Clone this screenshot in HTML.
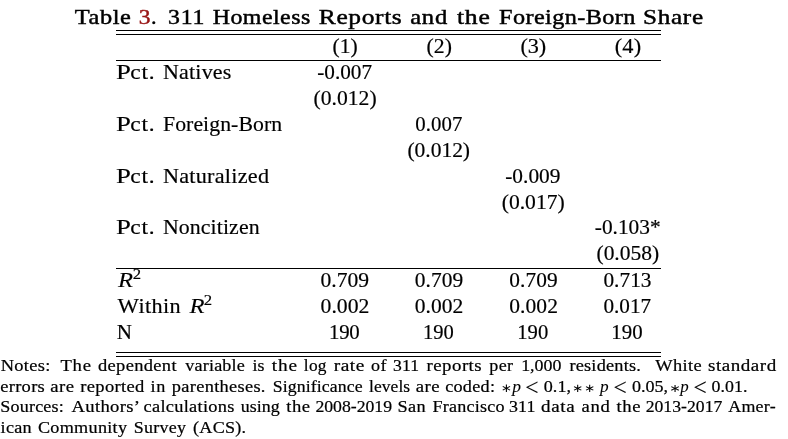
<!DOCTYPE html>
<html lang="en">
<head>
<meta charset="utf-8">
<title>Table 3. 311 Homeless Reports and the Foreign-Born Share</title>
<style>
html,body{margin:0;padding:0;background:#fff;}
body{width:788px;height:439px;overflow:hidden;position:relative;font-family:"Liberation Serif",serif;color:#000;}
.t{position:absolute;left:0;white-space:pre;line-height:1;margin:0;padding:0;transform-origin:0 0;-webkit-text-stroke:0.18px #000;}
.b{font-weight:normal;-webkit-text-stroke:0.45px #000;}
.i,.ni{font-style:italic;-webkit-text-stroke:0.1px #000;}
.s{-webkit-text-stroke:0.15px #000;}
.n{-webkit-text-stroke:0.22px #000;}
.na{font-family:"DejaVu Sans","Liberation Serif",sans-serif;-webkit-text-stroke:0;}
.red{color:#981414;-webkit-text-stroke-color:#981414;}
.hr{position:absolute;height:1px;background:#000;}
</style>
</head>
<body>
<div class="hr" style="left:116px;top:30px;width:545px"></div>
<div class="hr" style="left:116px;top:34px;width:545px"></div>
<div class="hr" style="left:116px;top:60px;width:545px"></div>
<div class="hr" style="left:116px;top:268px;width:545px"></div>
<div class="hr" style="left:116px;top:352px;width:545px"></div>
<div class="hr" style="left:116px;top:356px;width:545px"></div>
<span class="t b" style="top:7px;font-size:21.40px;letter-spacing:0.518px;transform:matrix(1.1392,0,0,1.0000,74.81,0);">Table </span>
<span class="t b red" style="top:7px;font-size:21.40px;transform:matrix(1.0984,0,0,1.0000,138.69,0);">3</span>
<span class="t b" style="top:7px;font-size:21.40px;transform:matrix(1.0429,0,0,1.0000,150.99,0);">. </span>
<span class="t b" style="top:7px;font-size:21.40px;letter-spacing:0.713px;transform:matrix(1.1119,0,0,1.0000,168.01,0);">311 </span>
<span class="t b" style="top:7px;font-size:21.40px;letter-spacing:0.402px;transform:matrix(1.1185,0,0,1.0000,212.73,0);">Homeless </span>
<span class="t b" style="top:7px;font-size:21.40px;letter-spacing:0.525px;transform:matrix(1.1900,0,0,1.0000,318.81,0);">Reports </span>
<span class="t b" style="top:7px;font-size:21.40px;letter-spacing:0.712px;transform:matrix(1.1482,0,0,1.0000,410.15,0);">and </span>
<span class="t b" style="top:7px;font-size:21.40px;letter-spacing:0.628px;transform:matrix(1.1980,0,0,1.0000,456.98,0);">the </span>
<span class="t b" style="top:7px;font-size:21.40px;letter-spacing:0.365px;transform:matrix(1.1314,0,0,1.0000,499.07,0);">Foreign-Born </span>
<span class="t b" style="top:7px;font-size:21.40px;letter-spacing:0.595px;transform:matrix(1.1769,0,0,1.0000,643.00,0);">Share </span>
<span class="t r" style="top:36px;font-size:21.40px;letter-spacing:0.003px;transform:matrix(1.0074,0,0,1.0000,332.48,0);">(1) </span>
<span class="t r" style="top:36px;font-size:21.40px;letter-spacing:0.037px;transform:matrix(1.0160,0,0,1.0000,426.56,0);">(2) </span>
<span class="t r" style="top:36px;font-size:21.40px;letter-spacing:-0.099px;transform:matrix(1.0378,0,0,1.0000,520.44,0);">(3) </span>
<span class="t r" style="top:36px;font-size:21.40px;letter-spacing:0.117px;transform:matrix(1.0444,0,0,1.0000,614.81,0);">(4) </span>
<span class="t r" style="top:62px;font-size:21.40px;transform:matrix(1.2500,0,0,1.0000,116.09,0);">P</span>
<span class="t r" style="top:62px;font-size:21.40px;letter-spacing:0.638px;transform:matrix(1.0934,0,0,1.0000,130.36,0);">ct. </span>
<span class="t r" style="top:62px;font-size:21.40px;letter-spacing:0.188px;transform:matrix(1.0292,0,0,1.0000,162.96,0);">Natives </span>
<span class="t r" style="top:62px;font-size:21.40px;letter-spacing:-0.016px;transform:matrix(0.9930,0,0,1.0000,317.23,0);">-0.007 </span>
<span class="t r" style="top:88px;font-size:21.40px;letter-spacing:-0.018px;transform:matrix(1.0127,0,0,1.0000,313.56,0);">(0.012) </span>
<span class="t r" style="top:114px;font-size:21.40px;transform:matrix(1.2500,0,0,1.0000,116.09,0);">P</span>
<span class="t r" style="top:114px;font-size:21.40px;letter-spacing:0.638px;transform:matrix(1.0934,0,0,1.0000,130.36,0);">ct. </span>
<span class="t r" style="top:114px;font-size:21.40px;letter-spacing:0.074px;transform:matrix(1.0163,0,0,1.0000,162.96,0);">Foreign-Born </span>
<span class="t r" style="top:114px;font-size:21.40px;letter-spacing:0.068px;transform:matrix(0.9737,0,0,1.0000,415.23,0);">0.007 </span>
<span class="t r" style="top:140px;font-size:21.40px;letter-spacing:-0.045px;transform:matrix(1.0080,0,0,1.0000,407.45,0);">(0.012) </span>
<span class="t r" style="top:166px;font-size:21.40px;transform:matrix(1.2500,0,0,1.0000,116.09,0);">P</span>
<span class="t r" style="top:166px;font-size:21.40px;letter-spacing:0.638px;transform:matrix(1.0934,0,0,1.0000,130.36,0);">ct. </span>
<span class="t r" style="top:166px;font-size:21.40px;letter-spacing:0.241px;transform:matrix(1.0385,0,0,1.0000,162.90,0);">Naturalized </span>
<span class="t r" style="top:166px;font-size:21.40px;letter-spacing:0.023px;transform:matrix(0.9990,0,0,1.0000,505.20,0);">-0.009 </span>
<span class="t r" style="top:192px;font-size:21.40px;letter-spacing:-0.024px;transform:matrix(1.0111,0,0,1.0000,501.76,0);">(0.017) </span>
<span class="t r" style="top:217px;font-size:21.40px;transform:matrix(1.2500,0,0,1.0000,116.09,0);">P</span>
<span class="t r" style="top:217px;font-size:21.40px;letter-spacing:0.638px;transform:matrix(1.0934,0,0,1.0000,130.36,0);">ct. </span>
<span class="t r" style="top:217px;font-size:21.40px;letter-spacing:0.100px;transform:matrix(1.0204,0,0,1.0000,162.93,0);">Noncitizen </span>
<span class="t r" style="top:217px;font-size:21.40px;letter-spacing:-0.001px;transform:matrix(0.9986,0,0,1.0000,594.78,0);">-0.103* </span>
<span class="t r" style="top:243px;font-size:21.40px;letter-spacing:-0.021px;transform:matrix(1.0061,0,0,1.0000,596.48,0);">(0.058) </span>
<span class="t i" style="top:270px;font-size:21.40px;transform:matrix(1.1500,0,0,1.0000,118.03,0);">R</span>
<span class="t s" style="top:267px;font-size:14.60px;transform:matrix(1.1485,0,0,1.0000,132.73,0);">2 </span>
<span class="t r" style="top:270px;font-size:21.40px;letter-spacing:-0.005px;transform:matrix(1.0105,0,0,1.0000,320.56,0);">0.709 </span>
<span class="t r" style="top:270px;font-size:21.40px;letter-spacing:0.049px;transform:matrix(1.0023,0,0,1.0000,414.82,0);">0.709 </span>
<span class="t r" style="top:270px;font-size:21.40px;letter-spacing:0.083px;transform:matrix(0.9977,0,0,1.0000,509.29,0);">0.709 </span>
<span class="t r" style="top:270px;font-size:21.40px;letter-spacing:0.011px;transform:matrix(0.9975,0,0,1.0000,603.44,0);">0.713 </span>
<span class="t r" style="top:296px;font-size:21.40px;transform:matrix(1.0598,0,0,1.0000,117.54,0);">W</span>
<span class="t r" style="top:296px;font-size:21.40px;letter-spacing:0.339px;transform:matrix(1.0386,0,0,1.0000,138.40,0);">ithin </span>
<span class="t i" style="top:296px;font-size:21.40px;transform:matrix(1.1500,0,0,1.0000,189.50,0);">R</span>
<span class="t s" style="top:293px;font-size:14.60px;transform:matrix(1.1485,0,0,1.0000,203.73,0);">2 </span>
<span class="t r" style="top:296px;font-size:21.40px;letter-spacing:-0.016px;transform:matrix(1.0148,0,0,1.0000,320.56,0);">0.002 </span>
<span class="t r" style="top:296px;font-size:21.40px;letter-spacing:-0.017px;transform:matrix(1.0064,0,0,1.0000,414.81,0);">0.002 </span>
<span class="t r" style="top:296px;font-size:21.40px;letter-spacing:0.065px;transform:matrix(1.0064,0,0,1.0000,509.22,0);">0.002 </span>
<span class="t r" style="top:296px;font-size:21.40px;letter-spacing:-0.014px;transform:matrix(0.9926,0,0,1.0000,603.47,0);">0.017 </span>
<span class="t r" style="top:322px;font-size:21.40px;transform:matrix(0.9858,0,0,1.0000,116.63,0);">N </span>
<span class="t r" style="top:322px;font-size:21.40px;letter-spacing:-0.202px;transform:matrix(0.9748,0,0,1.0000,328.91,0);">190 </span>
<span class="t r" style="top:322px;font-size:21.40px;letter-spacing:0.006px;transform:matrix(0.9622,0,0,1.0000,423.00,0);">190 </span>
<span class="t r" style="top:322px;font-size:21.40px;letter-spacing:0.157px;transform:matrix(0.9647,0,0,1.0000,517.15,0);">190 </span>
<span class="t r" style="top:322px;font-size:21.40px;letter-spacing:0.092px;transform:matrix(0.9747,0,0,1.0000,611.29,0);">190 </span>
<span class="t n" style="top:357px;font-size:17.40px;letter-spacing:0.298px;transform:matrix(1.0584,0,0,1.0000,0.65,0);">Notes: </span>
<span class="t n" style="top:357px;font-size:17.40px;letter-spacing:0.640px;transform:matrix(1.0746,0,0,1.0000,60.51,0);">The </span>
<span class="t n" style="top:357px;font-size:17.40px;letter-spacing:0.319px;transform:matrix(1.0615,0,0,1.0000,97.98,0);">dependent </span>
<span class="t n" style="top:357px;font-size:17.40px;letter-spacing:0.180px;transform:matrix(1.0406,0,0,1.0000,185.25,0);">variable </span>
<span class="t n" style="top:357px;font-size:17.40px;letter-spacing:-0.124px;transform:matrix(1.0269,0,0,1.0000,252.61,0);">is </span>
<span class="t n" style="top:357px;font-size:17.40px;letter-spacing:0.762px;transform:matrix(1.1072,0,0,1.0000,271.83,0);">the </span>
<span class="t n" style="top:357px;font-size:17.40px;letter-spacing:0.268px;transform:matrix(0.9959,0,0,1.0000,303.83,0);">log </span>
<span class="t n" style="top:357px;font-size:17.40px;letter-spacing:0.456px;transform:matrix(1.1144,0,0,1.0000,333.68,0);">rate </span>
<span class="t n" style="top:357px;font-size:17.40px;letter-spacing:0.505px;transform:matrix(1.0338,0,0,1.0000,370.96,0);">of </span>
<span class="t n" style="top:357px;font-size:17.40px;letter-spacing:0.106px;transform:matrix(1.0126,0,0,1.0000,393.11,0);">311 </span>
<span class="t n" style="top:357px;font-size:17.40px;letter-spacing:0.419px;transform:matrix(1.0840,0,0,1.0000,426.57,0);">reports </span>
<span class="t n" style="top:357px;font-size:17.40px;letter-spacing:0.411px;transform:matrix(1.0367,0,0,1.0000,489.25,0);">per </span>
<span class="t n" style="top:357px;font-size:17.40px;letter-spacing:-0.008px;transform:matrix(1.0280,0,0,1.0000,521.18,0);">1,000 </span>
<span class="t n" style="top:357px;font-size:17.40px;letter-spacing:0.192px;transform:matrix(1.0519,0,0,1.0000,569.42,0);">residents. </span>
<span class="t n" style="top:357px;font-size:17.40px;letter-spacing:0.337px;transform:matrix(1.0560,0,0,1.0000,655.25,0);">White </span>
<span class="t n" style="top:357px;font-size:17.40px;letter-spacing:0.501px;transform:matrix(1.0926,0,0,1.0000,707.94,0);">standard </span>
<span class="t n" style="top:378px;font-size:17.40px;letter-spacing:0.306px;transform:matrix(1.0612,0,0,1.0000,0.14,0);">errors </span>
<span class="t n" style="top:378px;font-size:17.40px;letter-spacing:0.432px;transform:matrix(1.0760,0,0,1.0000,50.32,0);">are </span>
<span class="t n" style="top:378px;font-size:17.40px;letter-spacing:0.333px;transform:matrix(1.0644,0,0,1.0000,80.18,0);">reported </span>
<span class="t n" style="top:378px;font-size:17.40px;letter-spacing:0.571px;transform:matrix(1.0452,0,0,1.0000,150.58,0);">in </span>
<span class="t n" style="top:378px;font-size:17.40px;letter-spacing:0.294px;transform:matrix(1.0555,0,0,1.0000,171.83,0);">parentheses. </span>
<span class="t n" style="top:378px;font-size:17.40px;letter-spacing:0.108px;transform:matrix(1.0203,0,0,1.0000,272.68,0);">Significance </span>
<span class="t n" style="top:378px;font-size:17.40px;letter-spacing:0.078px;transform:matrix(1.0021,0,0,1.0000,369.08,0);">levels </span>
<span class="t n" style="top:378px;font-size:17.40px;letter-spacing:0.470px;transform:matrix(1.0804,0,0,1.0000,415.75,0);">are </span>
<span class="t n" style="top:378px;font-size:17.40px;letter-spacing:0.256px;transform:matrix(1.0459,0,0,1.0000,445.13,0);">coded: </span>
<span class="t na" style="top:382px;font-size:13.00px;transform:matrix(1.0376,0,0,0.9249,500.46,0);">∗</span>
<span class="t ni" style="top:378px;font-size:17.40px;transform:matrix(1.0004,0,0,1.0000,512.33,0);">p </span>
<span class="t nm" style="top:377px;font-size:17.40px;transform:matrix(1.3399,0,0,1.2789,525.15,0);">&lt; </span>
<span class="t n" style="top:378px;font-size:17.40px;letter-spacing:0.002px;transform:matrix(1.0412,0,0,1.0000,543.81,0);">0.1, </span>
<span class="t na" style="top:382px;font-size:13.00px;transform:matrix(1.0385,0,0,0.8820,572.33,0);">∗ </span>
<span class="t na" style="top:382px;font-size:13.00px;transform:matrix(1.0385,0,0,0.8820,584.33,0);">∗ </span>
<span class="t ni" style="top:378px;font-size:17.40px;transform:matrix(0.9885,0,0,1.0000,600.02,0);">p </span>
<span class="t nm" style="top:377px;font-size:17.40px;transform:matrix(1.3383,0,0,1.2785,613.42,0);">&lt; </span>
<span class="t n" style="top:378px;font-size:17.40px;letter-spacing:0.011px;transform:matrix(1.0390,0,0,1.0000,631.88,0);">0.05, </span>
<span class="t na" style="top:382px;font-size:13.00px;transform:matrix(1.0660,0,0,0.8715,669.42,0);">∗</span>
<span class="t ni" style="top:378px;font-size:17.40px;transform:matrix(0.9671,0,0,1.0000,680.34,0);">p </span>
<span class="t nm" style="top:376px;font-size:17.40px;transform:matrix(1.3374,0,0,1.3599,693.62,0);">&lt; </span>
<span class="t n" style="top:378px;font-size:17.40px;letter-spacing:0.044px;transform:matrix(1.0259,0,0,1.0000,711.62,0);">0.01. </span>
<span class="t n" style="top:398px;font-size:17.40px;letter-spacing:0.172px;transform:matrix(1.0383,0,0,1.0000,0.34,0);">Sources: </span>
<span class="t n" style="top:398px;font-size:17.40px;letter-spacing:0.320px;transform:matrix(1.0690,0,0,1.0000,71.51,0);">Authors’ </span>
<span class="t n" style="top:398px;font-size:17.40px;letter-spacing:0.269px;transform:matrix(1.0562,0,0,1.0000,143.53,0);">calculations </span>
<span class="t n" style="top:398px;font-size:17.40px;letter-spacing:0.073px;transform:matrix(1.0279,0,0,1.0000,240.63,0);">using </span>
<span class="t n" style="top:398px;font-size:17.40px;letter-spacing:0.536px;transform:matrix(1.0717,0,0,1.0000,286.21,0);">the </span>
<span class="t n" style="top:398px;font-size:17.40px;letter-spacing:-0.026px;transform:matrix(1.0198,0,0,1.0000,315.44,0);">2008-2019 </span>
<span class="t n" style="top:398px;font-size:17.40px;letter-spacing:0.419px;transform:matrix(1.0496,0,0,1.0000,397.45,0);">San </span>
<span class="t n" style="top:398px;font-size:17.40px;letter-spacing:0.204px;transform:matrix(1.0404,0,0,1.0000,432.42,0);">Francisco </span>
<span class="t n" style="top:398px;font-size:17.40px;letter-spacing:0.104px;transform:matrix(1.0306,0,0,1.0000,509.01,0);">311 </span>
<span class="t n" style="top:398px;font-size:17.40px;letter-spacing:0.581px;transform:matrix(1.0948,0,0,1.0000,540.97,0);">data </span>
<span class="t n" style="top:398px;font-size:17.40px;letter-spacing:0.633px;transform:matrix(1.0719,0,0,1.0000,581.46,0);">and </span>
<span class="t n" style="top:398px;font-size:17.40px;letter-spacing:0.592px;transform:matrix(1.0740,0,0,1.0000,616.43,0);">the </span>
<span class="t n" style="top:398px;font-size:17.40px;letter-spacing:0.015px;transform:matrix(1.0156,0,0,1.0000,645.67,0);">2013-2017 </span>
<span class="t n" style="top:398px;font-size:17.40px;letter-spacing:0.242px;transform:matrix(1.0290,0,0,1.0000,728.28,0);">Amer- </span>
<span class="t n" style="top:419px;font-size:17.40px;letter-spacing:0.274px;transform:matrix(1.0437,0,0,1.0000,0.58,0);">ican </span>
<span class="t n" style="top:419px;font-size:17.40px;letter-spacing:0.273px;transform:matrix(1.0444,0,0,1.0000,37.94,0);">Community </span>
<span class="t n" style="top:419px;font-size:17.40px;letter-spacing:0.244px;transform:matrix(1.0310,0,0,1.0000,133.83,0);">Survey </span>
<span class="t n" style="top:419px;font-size:17.40px;letter-spacing:0.238px;transform:matrix(1.0414,0,0,1.0000,193.09,0);">(ACS). </span>
</body>
</html>
